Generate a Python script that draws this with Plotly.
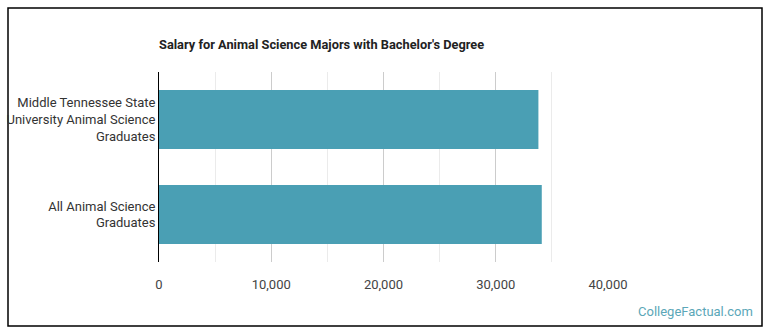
import plotly.graph_objects as go

categories = ["Middle Tennessee State<br>University Animal Science<br>Graduates",
              "All Animal Science<br>Graduates"]
salaries = [33800, 34100]
tick_vals = [0, 10000, 20000, 30000, 40000]
tick_text = ["0", "10,000", "20,000", "30,000", "40,000"]

W, H = 770, 335
L, R, T, B = 159, 162, 72, 73
pw, ph = W - L - R, H - T - B

def px(x):
    return (x - L) / pw

def py(y):
    return (H - B - y) / ph

fig = go.Figure(go.Bar(
    x=salaries, y=categories, orientation="h",
    marker=dict(color="#4A9FB4", line=dict(width=0)),
    hoverinfo="x+y",
))

fig.update_layout(
    width=W, height=H,
    margin=dict(l=L, r=R, t=T, b=B, autoexpand=False),
    paper_bgcolor="white", plot_bgcolor="white",
    bargap=0.38,
    showlegend=False,
    font=dict(family="Roboto", size=13, color="#333333"),
    title=dict(text="<b>Salary for Animal Science Majors with Bachelor's Degree</b>",
               x=px(159), xanchor="left", xref="paper",
               y=1 - 45 / H, yanchor="middle",
               font=dict(family="Roboto", size=12.8, color="#222222")),
    xaxis=dict(range=[0, 40000], tickvals=tick_vals, ticktext=tick_text,
               showgrid=True, gridcolor="#cccccc", gridwidth=1,
               minor=dict(dtick=5000, showgrid=True, gridcolor="#ebebeb", gridwidth=1),
               zeroline=False, showline=False, automargin=False,
               ticks="outside", ticklen=10, tickcolor="rgba(0,0,0,0)",
               tickfont=dict(family="Roboto", size=13, color="#444444"),
               fixedrange=True),
    yaxis=dict(autorange="reversed", showline=True, linecolor="#000000", linewidth=1,
               showgrid=False, ticks="", ticklabelstandoff=0, automargin=False,
               tickfont=dict(family="Roboto", size=13, color="#333333"),
               fixedrange=True),
    shapes=[dict(type="rect", xref="paper", yref="paper",
                 x0=px(8), x1=px(762), y0=py(326), y1=py(8),
                 line=dict(color="#000000", width=1.5), fillcolor="rgba(0,0,0,0)",
                 layer="below")],
    annotations=[dict(text="CollegeFactual.com", xref="paper", yref="paper",
                      x=px(755), y=py(311), xanchor="right", yanchor="middle",
                      showarrow=False,
                      font=dict(family="Roboto", size=13, color="#5BA7B8"))],
)

fig.write_html("out.html")
